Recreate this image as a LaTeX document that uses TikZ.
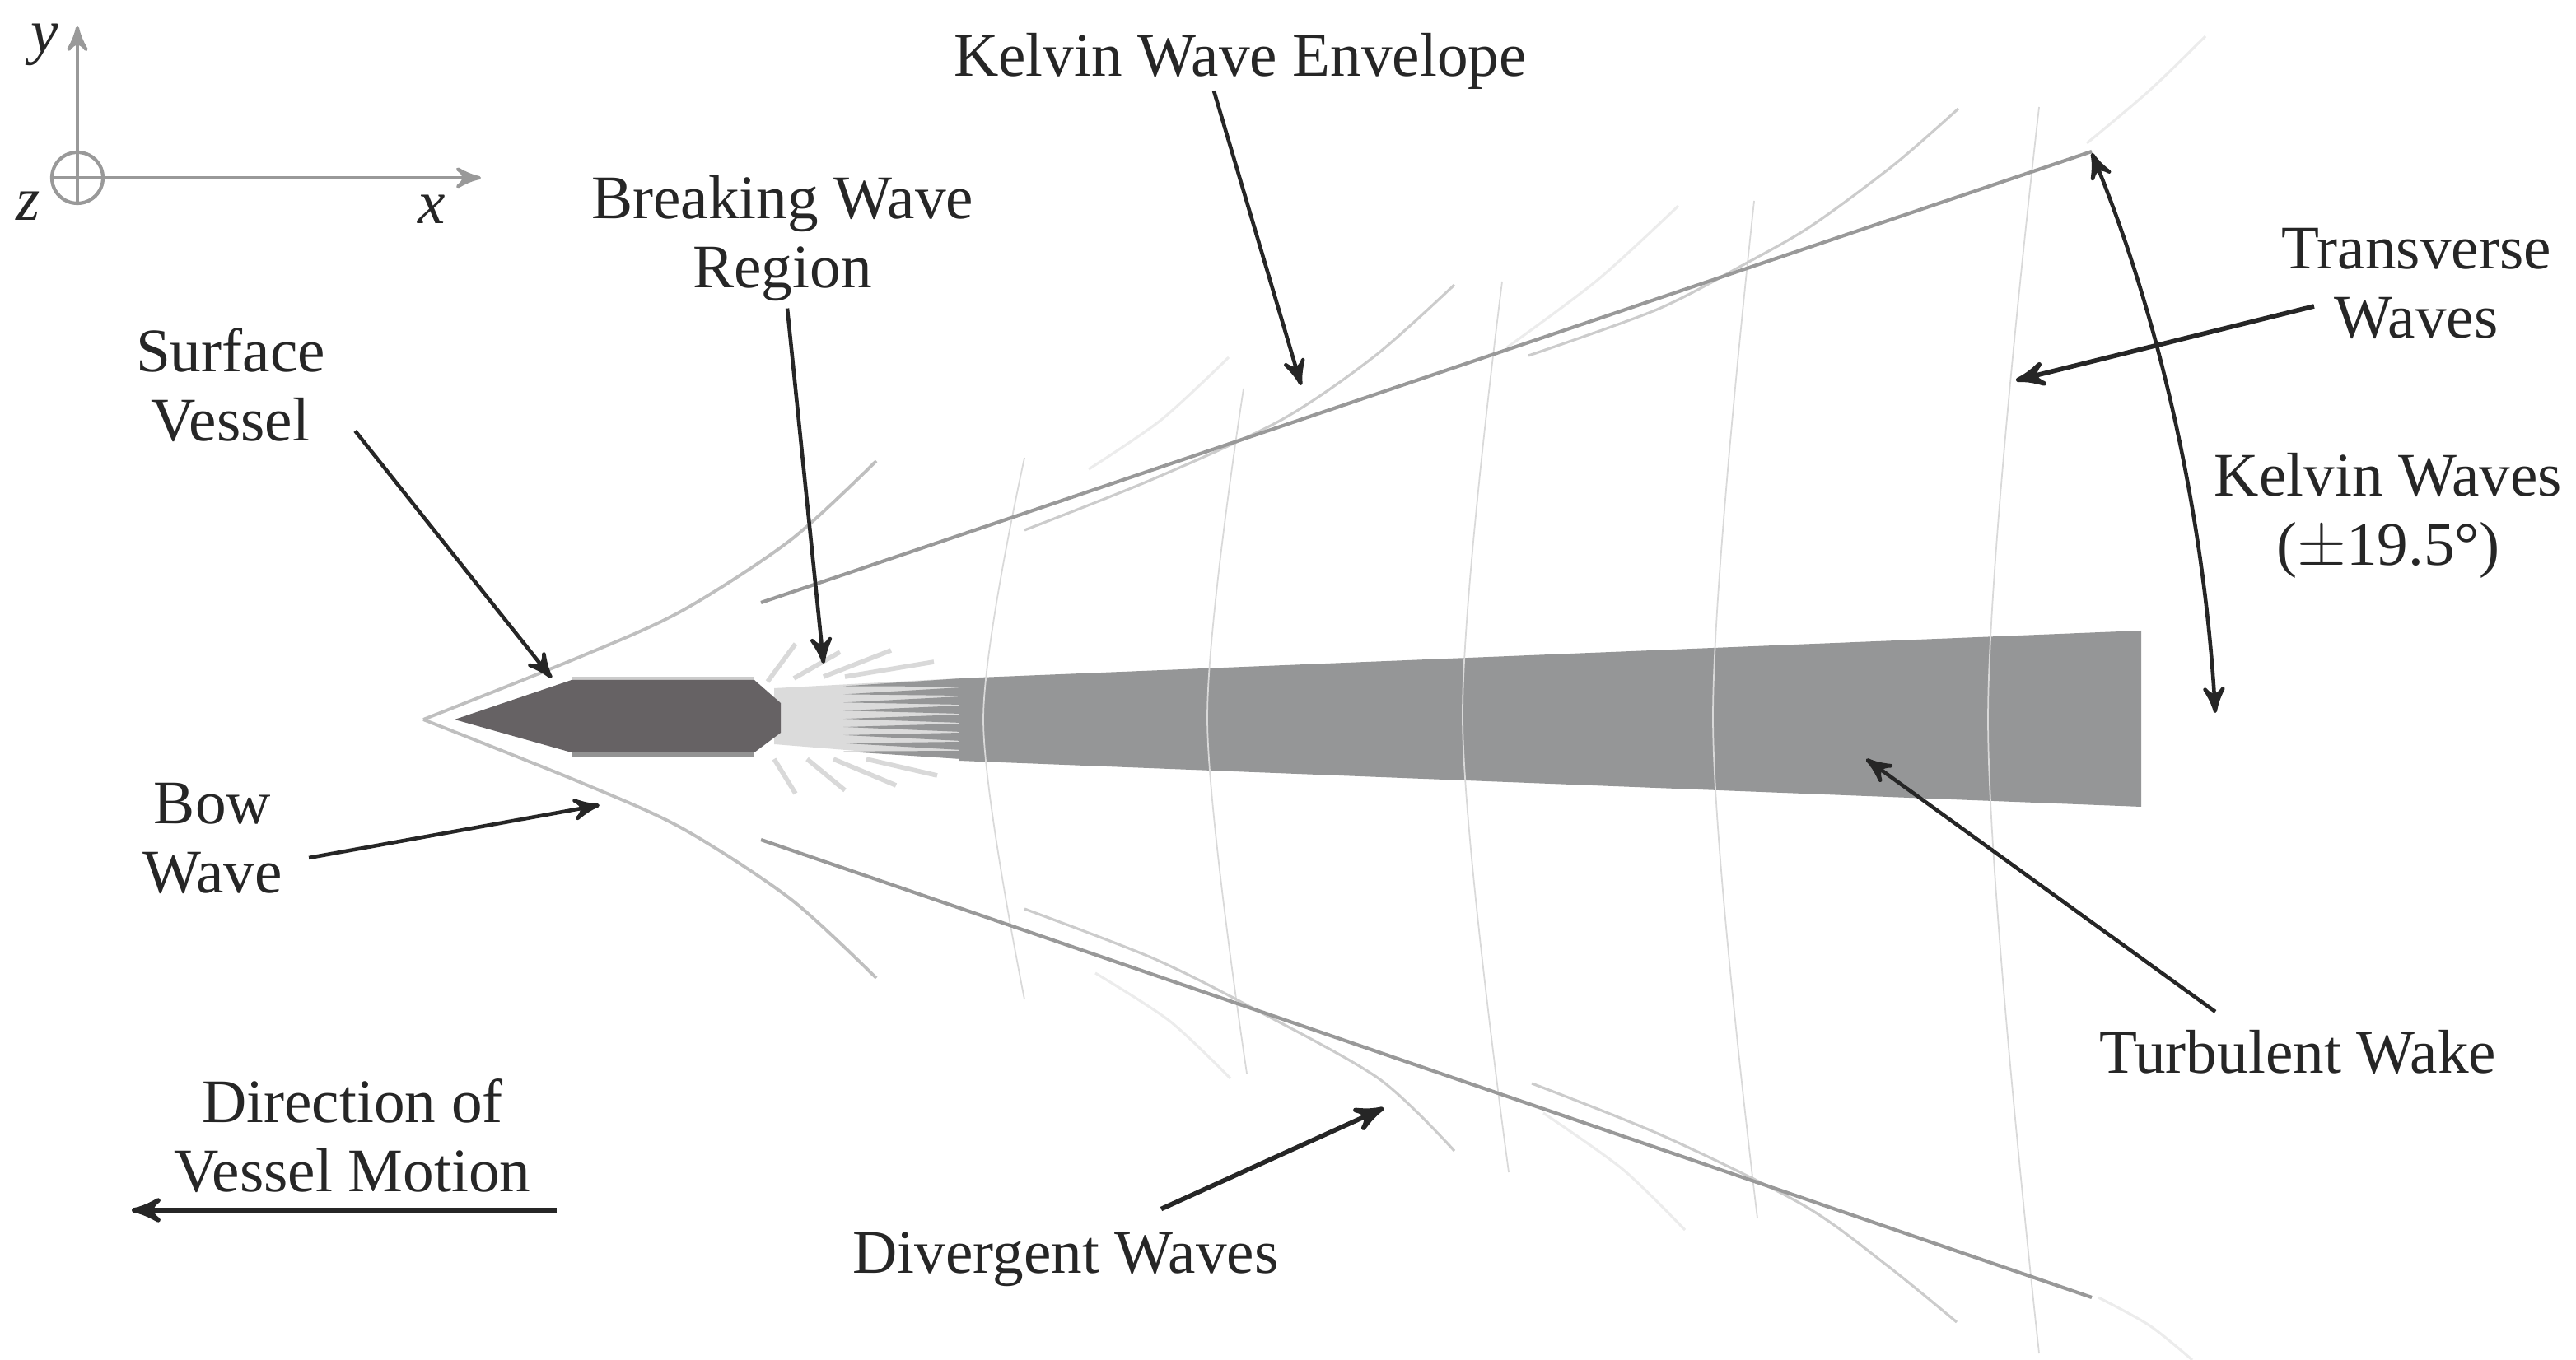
\documentclass[tikz,border=0pt]{standalone}
\usepackage{fontspec}
\setmainfont{Liberation Serif}
\usetikzlibrary{arrows,calc}
\definecolor{hullgray}{HTML}{666264}
\definecolor{wakegray}{HTML}{959697}
\definecolor{inkgray}{HTML}{262626}
\tikzset{
    lbl/.style={
        align=center,
        text=inkgray,
        font=\fontsize{10.7}{11.95}\selectfont,
        inner sep=1pt,
    },
    axis-line/.style={
        draw=gray!80,
        semithick,
        ->,>=stealth',
    },
    callout/.style={
        draw=inkgray,
        line width=0.65pt,
        ->,>=stealth',
    },
    envelope/.style={
        draw=gray!80,
        line width=0.6pt,
    },
    bow-wave/.style={
        draw=gray!50,
        line width=0.55pt,
    },
    div-wave/.style={
        draw=gray!40,
        line width=0.45pt,
    },
    faint-wave/.style={
        draw=gray!15,
        line width=0.45pt,
    },
    trans-wave/.style={
        draw=gray!30,
        line width=0.25pt,
    },
    spray/.style={
        draw=gray!30,
        line width=0.8pt,
    },
}

\begin{document}
\begin{tikzpicture}[x=0.1mm,y=-0.1mm]
    \useasboundingbox (0,0) rectangle (1564,826);

    % wake and fan behind the hull
    \fill[gray!28] (470,418) -- (582,412) -- (582,461) -- (470,452) -- cycle;
    \foreach \i in {0,...,8} {
        \pgfmathsetmacro{\ya}{412+\i*5.5}
        \pgfmathsetmacro{\yb}{\ya+5}
        \pgfmathsetmacro{\yt}{437+(\ya+2.5-437)*0.9}
        \fill[wakegray] (584,\ya) -- (584,\yb) -- (512,\yt) -- cycle;
    }
    \fill[wakegray] (582,412) -- (1300,383) -- (1300,490) -- (582,462) -- cycle;
    \foreach \xa/\ya/\xb/\yb in {466/414/483/391,482/412/510/396,500/411/541/395,513/411/567/402,
        470/461/483/482,490/461/513/480,506/461/544/477,526/461/569/471} {
        \draw[spray] (\xa,\ya) -- (\xb,\yb);
    }

    % hull
    \fill[gray!40] (347,411) rectangle (458,415);
    \fill[gray!85] (347,455) rectangle (458,460);
    \fill[hullgray] (276,437) -- (347,413) -- (458,413) -- (474,427) -- (474,445) -- (458,457) -- (347,457) -- cycle;

    % transverse waves
    \draw[trans-wave] plot[smooth] coordinates {(622,278) (597,437) (622,607)};
    \draw[trans-wave] plot[smooth] coordinates {(755,236) (733,437) (757,652)};
    \draw[trans-wave] plot[smooth] coordinates {(912,171) (888,437) (916,712)};
    \draw[trans-wave] plot[smooth] coordinates {(1065,122) (1040,437) (1067,740)};
    \draw[trans-wave] plot[smooth] coordinates {(1238,65) (1207,437) (1238,822)};

    % bow wave and divergent waves, upper side then lower side
    \draw[bow-wave] plot[smooth] coordinates {(257,437) (352,399) (414,371) (480,328) (532,280)};
    \draw[bow-wave] plot[smooth] coordinates {(257,437) (352,475) (414,503) (480,546) (532,594)};
    \draw[div-wave] plot[smooth] coordinates {(622,322) (700,291) (778,255) (835,216) (883,173)};
    \draw[div-wave] plot[smooth] coordinates {(928,216) (1006,188) (1060,160) (1100,137) (1150,100) (1189,66)};
    \draw[div-wave] plot[smooth] coordinates {(622,552) (700,582) (760,612) (837,655) (883,699)};
    \draw[div-wave] plot[smooth] coordinates {(930,658) (1010,690) (1095,732) (1145,768) (1188,803)};
    \draw[faint-wave] plot[smooth] coordinates {(661,285) (705,255) (746,217)};
    \draw[faint-wave] plot[smooth] coordinates {(915,211) (970,170) (1019,125)};
    \draw[faint-wave] plot[smooth] coordinates {(1267,87) (1305,55) (1339,22)};
    \draw[faint-wave] plot[smooth] coordinates {(665,591) (710,620) (747,655)};
    \draw[faint-wave] plot[smooth] coordinates {(937,676) (985,710) (1023,747)};
    \draw[faint-wave] plot[smooth] coordinates {(1274,788) (1305,805) (1331,826)};

    % envelope
    \coordinate (EnvUpA) at (462,366);
    \coordinate (EnvUpB) at (1270,92);
    \coordinate (EnvLowA) at (462,510);
    \coordinate (EnvLowB) at (1270,788);
    \draw[envelope] (EnvUpA) -- (EnvUpB);
    \draw[envelope] (EnvLowA) -- (EnvLowB);

    % axes
    \node [draw=gray!80,circle,semithick,inner sep=0pt,minimum size=3.1mm] (Origin) at (47,108) {};
    \coordinate (YEnd) at (47,16);
    \coordinate (XEnd) at (292,108);
    \draw[axis-line] (Origin.center) -- (YEnd);
    \draw[axis-line] (Origin.center) -- (XEnd);
    \draw[draw=gray!80,semithick] (Origin.west) -- (Origin.east);
    \draw[draw=gray!80,semithick] (Origin.north) -- (Origin.south);
    \node [lbl] (LabY) at (27,27) {\textit{y}};
    \node [lbl] (LabZ) at (17,125) {\textit{z}};
    \node [lbl] (LabX) at (262,127) {\textit{x}};

    % labels
    \node [lbl] (Env) at (753,37) {Kelvin Wave Envelope};
    \node [lbl] (Break) at (475,145) {Breaking Wave\\Region};
    \node [lbl] (Vessel) at (140,234) {Surface\\Vessel};
    \node [lbl] (Bow) at (129,509) {Bow\\Wave};
    \node [lbl] (Motion) at (214,690) {Direction of\\Vessel Motion};
    \node [lbl] (Diverge) at (647,765) {Divergent Waves};
    \node [lbl] (Wake) at (1395,639) {Turbulent Wake};
    \node [lbl] (Trans) at (1467,172) {Transverse\\Waves};
    \node [lbl] (Kelvin) at (1450,313) {Kelvin Waves\\($\pm$19.5°)};

    % arrow tips
    \coordinate (EnvTip) at (790,234);
    \coordinate (BreakTip) at (500,403);
    \coordinate (VesselTip) at (335,412);
    \coordinate (BowTip) at (364,489);
    \coordinate (DivergeTip) at (840,673);
    \coordinate (WakeTip) at (1133,461);
    \coordinate (TransTip) at (1224,231);
    \coordinate (MotionTail) at (338,735);
    \coordinate (MotionTip) at (80,735);
    \coordinate (KelvinA) at (1270,93);
    \coordinate (KelvinB) at (1345,433);

    \draw[callout] (Env.south) ++(-16,-3) -- (EnvTip);
    \draw[callout] (Break.south) ++(3,0) -- (BreakTip);
    \draw[callout] (Vessel.south east) ++(14,-11) -- (VesselTip);
    \draw[callout] (Bow.east) ++(12,12) -- (BowTip);
    \draw[callout,line width=0.8pt] (Diverge.north) ++(58,-10) -- (DivergeTip);
    \draw[callout] (Wake.north) ++(-50,-7) -- (WakeTip);
    \draw[callout,line width=0.8pt] (Trans.west) ++(24,14) -- (TransTip);
    \draw[callout,line width=0.8pt] (MotionTail) -- (MotionTip);
    \draw[callout,<->] (KelvinA) .. controls (1310,190) and (1338,310) .. (KelvinB);
\end{tikzpicture}
\end{document}
